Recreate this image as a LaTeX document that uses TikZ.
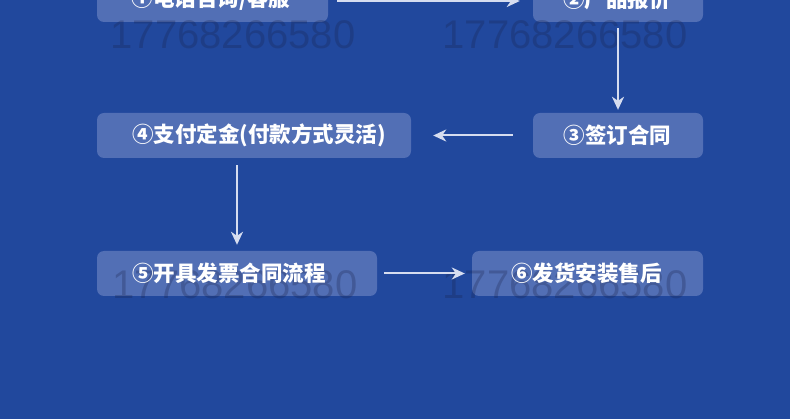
\documentclass[tikz,border=0pt]{standalone}
\usepackage{fontspec}
\newfontfamily\cjk{Noto Sans CJK SC}
\newfontfamily\wmfont{Liberation Sans}
\usetikzlibrary{arrows.meta}
\definecolor{bgblue}{RGB}{33,72,157}
\definecolor{boxfill}{RGB}{82,111,181}
\definecolor{arrcol}{RGB}{214,221,240}
\definecolor{wmcol}{RGB}{25,35,75}
\tikzset{
  box/.style={fill=boxfill, rounded corners=7pt, minimum height=45pt, inner sep=0pt},
  lbl/.style={text=white, font=\cjk\bfseries\fontsize{21.5}{24}\selectfont, inner sep=0pt},
  arr/.style={draw=arrcol, line width=2pt, -{Stealth[length=13pt,width=12pt,inset=4pt]}},
  wm/.style={text=wmcol, opacity=0.28, font=\wmfont\fontsize{40}{44}\selectfont, inner sep=0pt}
}
\begin{document}
\begin{tikzpicture}[x=1pt,y=-1pt]
\useasboundingbox (0,0) rectangle (790,419);
\fill[bgblue] (0,0) rectangle (790,419);
% boxes
\node[box, minimum width=231pt] (b1) at (212.5,-0.5) {};
\node[box, minimum width=170pt] (b2) at (618,-0.5) {};
\node[box, minimum width=170pt] (b3) at (618,135.5) {};
\node[box, minimum width=314pt] (b4) at (254,135.5) {};
\node[box, minimum width=280pt] (b5) at (237,273.5) {};
\node[box, minimum width=231pt] (b6) at (587.5,273.5) {};
% watermarks
\node[wm] (w1) at (233,35) {17768266580};
\node[wm] (w2) at (565,35) {17768266580};
\node[wm] (w3) at (235,285) {17768266580};
\node[wm] (w4) at (565,285) {17768266580};
% labels
\node[lbl] (t1) at (211,-1) {①电话咨询/客服};
\node[lbl] (t2) at (617,-1) {②产品报价};
\node[lbl] (t3) at (617.5,135) {③签订合同};
\node[lbl] (t4) at (259,135) {④支付定金(付款方式灵活)};
\node[lbl] (t5) at (229,273) {⑤开具发票合同流程};
\node[lbl] (t6) at (586.5,273) {⑥发货安装售后};
% arrows
\draw[arr, shorten <=9pt, shorten >=13pt] ([yshift=-1.5pt]b1.east) -- ([yshift=-1.5pt]b2.west);
\draw[arr, shorten <=6pt, shorten >=3pt] (b2.south) -- (b3.north);
\draw[arr, shorten <=20pt, shorten >=22pt] (b3.west) -- (b4.east);
\draw[arr, shorten <=7pt, shorten >=6pt] (b5.north |- b4.south) -- (b5.north);
\draw[arr, shorten <=7pt, shorten >=7pt] (b5.east) -- (b6.west);
\end{tikzpicture}
\end{document}
